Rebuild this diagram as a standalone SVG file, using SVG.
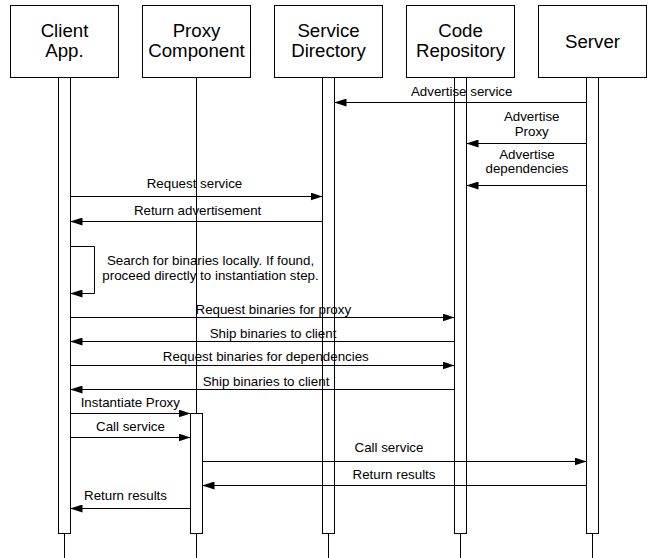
<svg xmlns="http://www.w3.org/2000/svg" width="648" height="558" viewBox="0 0 648 558">
<defs>
<style>
.box{fill:#fff;stroke:#000;stroke-width:1}
.bar{fill:#fff;stroke:#000;stroke-width:1}
.life{stroke:#000;stroke-width:1;fill:none}
.title{font-family:"Liberation Sans",Arial,sans-serif;font-size:18.67px;fill:#000;text-anchor:middle}
.msg{stroke:#000;stroke-width:1;fill:none;marker-end:url(#ah)}
.lbl{font-family:"Liberation Sans",Arial,sans-serif;font-size:13.33px;fill:#000;text-anchor:middle}
</style>
<marker id="ah" markerWidth="12" markerHeight="8" refX="12" refY="4" orient="auto" markerUnits="userSpaceOnUse">
<path d="M0,0 L12,4 L0,8 z" fill="#000"/>
</marker>
</defs>
<rect width="648" height="558" fill="#fff"/>

<g id="client">
<rect class="box" x="10.5" y="5.5" width="108" height="72"/>
<text class="title" x="64.5" y="36.5">Client</text>
<text class="title" x="64.5" y="57">App.</text>
<rect class="bar" x="58.5" y="77.5" width="12" height="456"/>
<line class="life" x1="64.5" y1="533.5" x2="64.5" y2="558"/>
</g>

<g id="proxy">
<rect class="box" x="142.5" y="5.5" width="108" height="72"/>
<text class="title" x="196.5" y="36.5">Proxy</text>
<text class="title" x="196.5" y="57">Component</text>
<line class="life" x1="196.5" y1="77.5" x2="196.5" y2="413.5"/>
<rect class="bar" x="190.5" y="413.5" width="12" height="120"/>
<line class="life" x1="196.5" y1="533.5" x2="196.5" y2="558"/>
</g>

<g id="directory">
<rect class="box" x="274.5" y="5.5" width="108" height="72"/>
<text class="title" x="328.5" y="36.5">Service</text>
<text class="title" x="328.5" y="57">Directory</text>
<rect class="bar" x="322.5" y="77.5" width="12" height="456"/>
<line class="life" x1="328.5" y1="533.5" x2="328.5" y2="558"/>
</g>

<g id="repository">
<rect class="box" x="406.5" y="5.5" width="108" height="72"/>
<text class="title" x="460.5" y="36.5">Code</text>
<text class="title" x="460.5" y="57">Repository</text>
<rect class="bar" x="454.5" y="77.5" width="12" height="456"/>
<line class="life" x1="460.5" y1="533.5" x2="460.5" y2="558"/>
</g>

<g id="server">
<rect class="box" x="538.5" y="5.5" width="108" height="72"/>
<text class="title" x="592.5" y="47.5">Server</text>
<rect class="bar" x="586.5" y="77.5" width="12" height="456"/>
<line class="life" x1="592.5" y1="533.5" x2="592.5" y2="558"/>
</g>

<g id="connectors">
<line class="msg" x1="586.5" y1="102.5" x2="334.5" y2="102.5"/>
<line class="msg" x1="586.5" y1="143.5" x2="466.5" y2="143.5"/>
<line class="msg" x1="586.5" y1="185.5" x2="466.5" y2="185.5"/>
<line class="msg" x1="70.5" y1="196.5" x2="322.5" y2="196.5"/>
<line class="msg" x1="322.5" y1="221.5" x2="70.5" y2="221.5"/>
<path class="msg" d="M70.5,246.5 H94.5 V293.5 H70.5"/>
<line class="msg" x1="70.5" y1="317.5" x2="454.5" y2="317.5"/>
<line class="msg" x1="454.5" y1="341.5" x2="70.5" y2="341.5"/>
<line class="msg" x1="70.5" y1="365.5" x2="454.5" y2="365.5"/>
<line class="msg" x1="454.5" y1="389.5" x2="70.5" y2="389.5"/>
<line class="msg" x1="70.5" y1="413.5" x2="190.5" y2="413.5"/>
<line class="msg" x1="70.5" y1="437.5" x2="190.5" y2="437.5"/>
<line class="msg" x1="202.5" y1="461.5" x2="586.5" y2="461.5"/>
<line class="msg" x1="586.5" y1="485.5" x2="202.5" y2="485.5"/>
<line class="msg" x1="190.5" y1="508.5" x2="70.5" y2="508.5"/>
</g>

<g id="labels">
<text class="lbl" x="461.7" y="95.5">Advertise service</text>
<text class="lbl" x="531.7" y="120.5">Advertise</text>
<text class="lbl" x="531.7" y="136">Proxy</text>
<text class="lbl" x="527" y="158.5">Advertise</text>
<text class="lbl" x="527" y="173">dependencies</text>
<text class="lbl" x="194.5" y="188">Request service</text>
<text class="lbl" x="197.6" y="215">Return advertisement</text>
<text class="lbl" x="210.5" y="264.5">Search for binaries locally. If found,</text>
<text class="lbl" x="210.5" y="280">proceed directly to instantiation step.</text>
<text class="lbl" x="273.3" y="313.5">Request binaries for proxy</text>
<text class="lbl" x="273" y="337.8">Ship binaries to client</text>
<text class="lbl" x="265.8" y="361">Request binaries for dependencies</text>
<text class="lbl" x="266" y="385.5">Ship binaries to client</text>
<text class="lbl" x="130.3" y="407">Instantiate Proxy</text>
<text class="lbl" x="130.5" y="431">Call service</text>
<text class="lbl" x="389" y="452">Call service</text>
<text class="lbl" x="394" y="478.5">Return results</text>
<text class="lbl" x="125.5" y="499.5">Return results</text>
</g>
</svg>
